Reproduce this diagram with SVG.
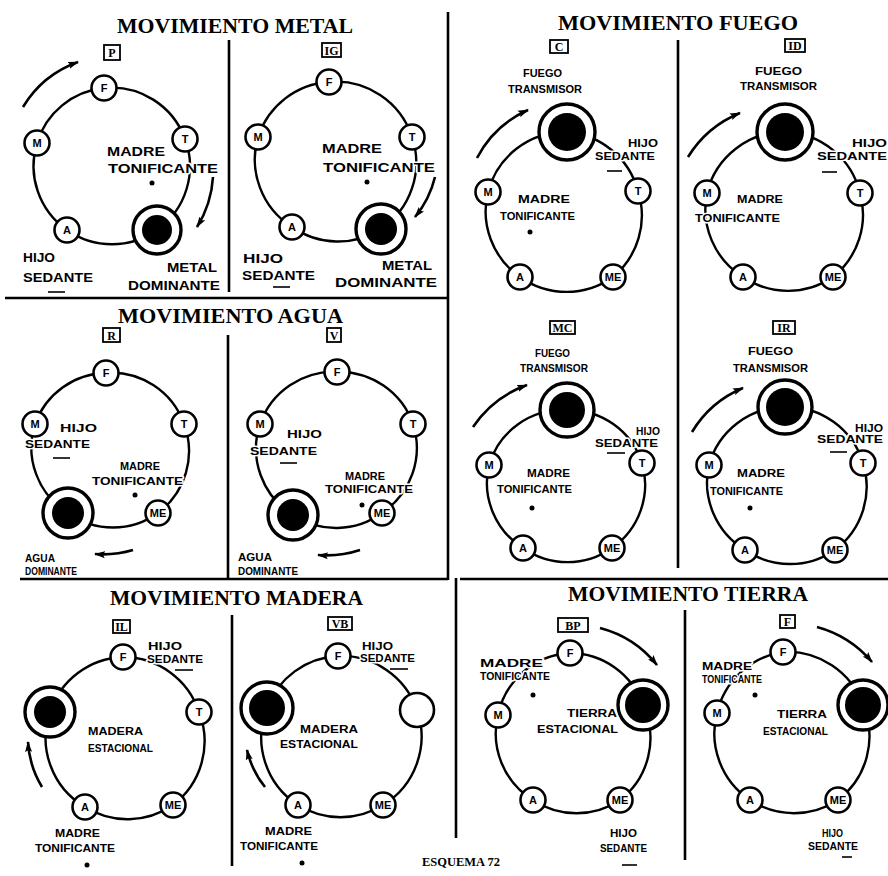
<svg xmlns="http://www.w3.org/2000/svg" width="888" height="876" viewBox="0 0 888 876">
<style>
.ring{fill:none;stroke:#000;stroke-width:2.4}
.arr{fill:none;stroke:#000;stroke-width:2.6;marker-end:url(#ah)}
.div{stroke:#000;stroke-width:2.6;fill:none}
.node{fill:#fff;stroke:#000;stroke-width:2.6}
.big{fill:#fff;stroke:#000;stroke-width:3.4}
.core{fill:#000}
.nl{font-family:"Liberation Sans",Arial,sans-serif;font-weight:bold;font-size:11px;text-anchor:middle}
.lb{font-family:"Liberation Sans",Arial,sans-serif;font-weight:bold;font-size:11px;stroke:#fff;stroke-width:3;paint-order:stroke;stroke-linejoin:round}
.lg{font-size:13px}
.hd{font-family:"Liberation Serif","Times New Roman",serif;font-weight:bold;font-size:20px}
.box{fill:#fff;stroke:#000;stroke-width:1.8}
.bt{font-family:"Liberation Serif","Times New Roman",serif;font-weight:bold;font-size:12px;text-anchor:middle}
.ul{stroke:#000;stroke-width:1.6}
</style>
<defs>
<marker id="ah" markerUnits="userSpaceOnUse" markerWidth="11" markerHeight="8" refX="10" refY="4" orient="auto">
<path d="M0,0.5 L11,4 L0,7.5 L2,4 Z" fill="#000"/>
</marker>
</defs>
<rect width="888" height="876" fill="#fff"/>

<g id="frame">
<line class="div" x1="5" y1="298" x2="448" y2="298"/>
<line class="div" x1="20" y1="579" x2="448" y2="579"/>
<line class="div" x1="460" y1="579" x2="888" y2="579"/>
<line class="div" x1="448" y1="12" x2="448" y2="580"/>
<line class="div" x1="456" y1="578" x2="456" y2="838"/>
<line class="div" x1="229" y1="40" x2="229" y2="292"/>
<line class="div" x1="228" y1="335" x2="228" y2="578"/>
<line class="div" x1="232" y1="615" x2="232" y2="866"/>
<line class="div" x1="678" y1="40" x2="678" y2="568"/>
<line class="div" x1="685" y1="610" x2="685" y2="860"/>
</g>

<g id="headings">
<text class="hd" x="117" y="33" textLength="236" lengthAdjust="spacingAndGlyphs">MOVIMIENTO METAL</text>
<text class="hd" x="118" y="323" textLength="225" lengthAdjust="spacingAndGlyphs">MOVIMIENTO AGUA</text>
<text class="hd" x="110" y="605" textLength="253" lengthAdjust="spacingAndGlyphs">MOVIMIENTO MADERA</text>
<text class="hd" x="558" y="30" textLength="240" lengthAdjust="spacingAndGlyphs">MOVIMIENTO FUEGO</text>
<text class="hd" x="568" y="601" textLength="240" lengthAdjust="spacingAndGlyphs">MOVIMIENTO TIERRA</text>
<text class="hd" x="422" y="866" style="font-size:13px" textLength="78" lengthAdjust="spacingAndGlyphs">ESQUEMA 72</text>
</g>

<g id="connectors">
<path class="ring" d="M104,88 A78,78 0 0 1 185,139 A78,78 0 0 1 157,230 A78,78 0 0 1 67,230 A78,78 0 0 1 37,143 A78,78 0 0 1 104,88 Z"/>
<path class="ring" d="M329,82 A80,80 0 0 1 412,137 A80,80 0 0 1 381,229 A80,80 0 0 1 292,227 A80,80 0 0 1 258,137 A80,80 0 0 1 329,82 Z"/>
<path class="ring" d="M106,373 A77,77 0 0 1 184,424 A77,77 0 0 1 158,513 A77,77 0 0 1 68,513 A77,77 0 0 1 35,424 A77,77 0 0 1 106,373 Z"/>
<path class="ring" d="M337,372 A78,78 0 0 1 413,424 A78,78 0 0 1 382,513 A78,78 0 0 1 293,515 A78,78 0 0 1 260,424 A78,78 0 0 1 337,372 Z"/>
<path class="ring" d="M123,657 A80,80 0 0 1 199,712 A80,80 0 0 1 173,805 A80,80 0 0 1 85,807 A80,80 0 0 1 50,712 A80,80 0 0 1 123,657 Z"/>
<path class="ring" d="M338,656 A80,80 0 0 1 417,710 A80,80 0 0 1 383,805 A80,80 0 0 1 298,805 A80,80 0 0 1 267,708 A80,80 0 0 1 338,656 Z"/>
<path class="ring" d="M567,132 A80,80 0 0 1 638,191 A80,80 0 0 1 613,277 A80,80 0 0 1 520,277 A80,80 0 0 1 488,192 A80,80 0 0 1 567,132 Z"/>
<path class="ring" d="M785,132 A80,80 0 0 1 860,193 A80,80 0 0 1 833,277 A80,80 0 0 1 743,277 A80,80 0 0 1 707,193 A80,80 0 0 1 785,132 Z"/>
<path class="ring" d="M567,410 A77,77 0 0 1 642,463 A77,77 0 0 1 612,548 A77,77 0 0 1 523,548 A77,77 0 0 1 489,465 A77,77 0 0 1 567,410 Z"/>
<path class="ring" d="M785,407 A79,79 0 0 1 863,463 A79,79 0 0 1 835,550 A79,79 0 0 1 745,550 A79,79 0 0 1 709,465 A79,79 0 0 1 785,407 Z"/>
<path class="ring" d="M570,653 A78,78 0 0 1 643,705 A78,78 0 0 1 620,800 A78,78 0 0 1 533,800 A78,78 0 0 1 498,715 A78,78 0 0 1 570,653 Z"/>
<path class="ring" d="M783,652 A80,80 0 0 1 863,705 A80,80 0 0 1 838,800 A80,80 0 0 1 750,800 A80,80 0 0 1 717,713 A80,80 0 0 1 783,652 Z"/>

<path class="arr" d="M23,107 A106,106 0 0 1 78,62"/>
<path class="arr" d="M213,177 A106,106 0 0 1 197,227"/>
<path class="arr" d="M435,177 A100,100 0 0 1 415,217"/>
<path class="arr" d="M133,550 A104,104 0 0 1 95,554"/>
<path class="arr" d="M360,550 A105,105 0 0 1 318,555"/>
<path class="arr" d="M42,787 A97,97 0 0 1 28,742"/>
<path class="arr" d="M265,787 A92,92 0 0 1 247,750"/>
<path class="arr" d="M477,158 A106,106 0 0 1 528,110"/>
<path class="arr" d="M688,157 A110,110 0 0 1 740,113"/>
<path class="arr" d="M473,427 A109,109 0 0 1 527,385"/>
<path class="arr" d="M692,432 A108,108 0 0 1 743,388"/>
<path class="arr" d="M600,628 A108,108 0 0 1 657,665"/>
<path class="arr" d="M817,627 A110,110 0 0 1 872,662"/>
</g>

<!-- PANEL P -->
<g id="panel-P">
<rect class="box" x="104" y="45" width="16" height="15"/><text class="bt" x="112" y="57">P</text>
<g id="P-F"><circle class="node" cx="104" cy="88" r="12.5"/><text class="nl" x="104" y="92">F</text></g>
<g id="P-T"><circle class="node" cx="185" cy="139" r="12.5"/><text class="nl" x="185" y="143">T</text></g>
<g id="P-ME"><circle class="big" cx="157" cy="230" r="24"/><circle class="core" cx="157" cy="230" r="15"/></g>
<g id="P-A"><circle class="node" cx="67" cy="230" r="12.5"/><text class="nl" x="67" y="234">A</text></g>
<g id="P-M"><circle class="node" cx="37" cy="143" r="12.5"/><text class="nl" x="37" y="147">M</text></g>
<text class="lb lg" x="107" y="156" textLength="58" lengthAdjust="spacingAndGlyphs">MADRE</text>
<text class="lb lg" x="108" y="173" textLength="110" lengthAdjust="spacingAndGlyphs">TONIFICANTE</text>
<circle class="core" cx="152" cy="183" r="2.5"/>
<text class="lb lg" x="23" y="262" textLength="32" lengthAdjust="spacingAndGlyphs">HIJO</text>
<text class="lb lg" x="23" y="282" textLength="70" lengthAdjust="spacingAndGlyphs">SEDANTE</text>
<line class="ul" x1="48" y1="292" x2="65" y2="292"/>
<text class="lb lg" x="167" y="272" textLength="50" lengthAdjust="spacingAndGlyphs">METAL</text>
<text class="lb lg" x="128" y="290" textLength="92" lengthAdjust="spacingAndGlyphs">DOMINANTE</text>
</g>

<!-- PANEL IG -->
<g id="panel-IG">
<rect class="box" x="322" y="43" width="19" height="14"/><text class="bt" x="331.5" y="54.5">IG</text>
<g id="IG-F"><circle class="node" cx="329" cy="82" r="12.5"/><text class="nl" x="329" y="86">F</text></g>
<g id="IG-T"><circle class="node" cx="412" cy="137" r="12.5"/><text class="nl" x="412" y="141">T</text></g>
<g id="IG-ME"><circle class="big" cx="381" cy="229" r="25"/><circle class="core" cx="381" cy="229" r="16"/></g>
<g id="IG-A"><circle class="node" cx="292" cy="227" r="12.5"/><text class="nl" x="292" y="231">A</text></g>
<g id="IG-M"><circle class="node" cx="258" cy="137" r="12.5"/><text class="nl" x="258" y="141">M</text></g>
<text class="lb lg" x="322" y="153" textLength="60" lengthAdjust="spacingAndGlyphs">MADRE</text>
<text class="lb lg" x="323" y="172" textLength="112" lengthAdjust="spacingAndGlyphs">TONIFICANTE</text>
<circle class="core" cx="367" cy="182" r="2.5"/>
<text class="lb lg" x="243" y="263" textLength="40" lengthAdjust="spacingAndGlyphs">HIJO</text>
<text class="lb lg" x="242" y="280" textLength="73" lengthAdjust="spacingAndGlyphs">SEDANTE</text>
<line class="ul" x1="273" y1="287" x2="290" y2="287"/>
<text class="lb lg" x="382" y="270" textLength="50" lengthAdjust="spacingAndGlyphs">METAL</text>
<text class="lb lg" x="335" y="287" textLength="102" lengthAdjust="spacingAndGlyphs">DOMINANTE</text>
</g>

<!-- PANEL R -->
<g id="panel-R">
<rect class="box" x="103" y="328" width="17" height="14"/><text class="bt" x="111.5" y="339.5">R</text>
<g id="R-F"><circle class="node" cx="106" cy="373" r="12.5"/><text class="nl" x="106" y="377">F</text></g>
<g id="R-T"><circle class="node" cx="184" cy="424" r="12.5"/><text class="nl" x="184" y="428">T</text></g>
<g id="R-ME"><circle class="node" cx="158" cy="513" r="12.5"/><text class="nl" x="158" y="517">ME</text></g>
<g id="R-A"><circle class="big" cx="68" cy="513" r="25"/><circle class="core" cx="68" cy="513" r="16"/></g>
<g id="R-M"><circle class="node" cx="35" cy="424" r="12.5"/><text class="nl" x="35" y="428">M</text></g>
<text class="lb" x="60" y="432" textLength="37" lengthAdjust="spacingAndGlyphs">HIJO</text>
<text class="lb" x="25" y="448" textLength="65" lengthAdjust="spacingAndGlyphs">SEDANTE</text>
<line class="ul" x1="53" y1="458" x2="70" y2="458"/>
<text class="lb" x="120" y="470" textLength="40" lengthAdjust="spacingAndGlyphs">MADRE</text>
<text class="lb" x="92" y="485" textLength="91" lengthAdjust="spacingAndGlyphs">TONIFICANTE</text>
<circle class="core" cx="135" cy="495" r="2.5"/>
<text class="lb" x="25" y="562" textLength="30" lengthAdjust="spacingAndGlyphs">AGUA</text>
<text class="lb" x="25" y="575" textLength="52" lengthAdjust="spacingAndGlyphs">DOMINANTE</text>
</g>

<!-- PANEL V -->
<g id="panel-V">
<rect class="box" x="327" y="328" width="14" height="14"/><text class="bt" x="334" y="339.5">V</text>
<g id="V-F"><circle class="node" cx="337" cy="372" r="12.5"/><text class="nl" x="337" y="376">F</text></g>
<g id="V-T"><circle class="node" cx="413" cy="424" r="12.5"/><text class="nl" x="413" y="428">T</text></g>
<g id="V-ME"><circle class="node" cx="382" cy="513" r="12.5"/><text class="nl" x="382" y="517">ME</text></g>
<g id="V-A"><circle class="big" cx="293" cy="515" r="25"/><circle class="core" cx="293" cy="515" r="16"/></g>
<g id="V-M"><circle class="node" cx="260" cy="424" r="12.5"/><text class="nl" x="260" y="428">M</text></g>
<text class="lb" x="287" y="438" textLength="35" lengthAdjust="spacingAndGlyphs">HIJO</text>
<text class="lb" x="250" y="455" textLength="67" lengthAdjust="spacingAndGlyphs">SEDANTE</text>
<line class="ul" x1="280" y1="463" x2="297" y2="463"/>
<text class="lb" x="345" y="480" textLength="40" lengthAdjust="spacingAndGlyphs">MADRE</text>
<text class="lb" x="325" y="493" textLength="88" lengthAdjust="spacingAndGlyphs">TONIFICANTE</text>
<circle class="core" cx="362" cy="505" r="2.5"/>
<text class="lb" x="238" y="561" textLength="34" lengthAdjust="spacingAndGlyphs">AGUA</text>
<text class="lb" x="238" y="575" textLength="60" lengthAdjust="spacingAndGlyphs">DOMINANTE</text>
</g>

<!-- PANEL IL -->
<g id="panel-IL">
<rect class="box" x="113" y="620" width="17" height="13"/><text class="bt" x="121.5" y="631">IL</text>
<g id="IL-F"><circle class="node" cx="123" cy="657" r="12.5"/><text class="nl" x="123" y="661">F</text></g>
<g id="IL-T"><circle class="node" cx="199" cy="712" r="12.5"/><text class="nl" x="199" y="716">T</text></g>
<g id="IL-ME"><circle class="node" cx="173" cy="805" r="12.5"/><text class="nl" x="173" y="809">ME</text></g>
<g id="IL-A"><circle class="node" cx="85" cy="807" r="12.5"/><text class="nl" x="85" y="811">A</text></g>
<g id="IL-M"><circle class="big" cx="50" cy="712" r="25"/><circle class="core" cx="50" cy="712" r="16"/></g>
<text class="lb" x="148" y="650" textLength="34" lengthAdjust="spacingAndGlyphs">HIJO</text>
<text class="lb" x="147" y="663" textLength="56" lengthAdjust="spacingAndGlyphs">SEDANTE</text>
<line class="ul" x1="175" y1="670" x2="193" y2="670"/>
<text class="lb" x="88" y="735" textLength="55" lengthAdjust="spacingAndGlyphs">MADERA</text>
<text class="lb" x="88" y="752" textLength="65" lengthAdjust="spacingAndGlyphs">ESTACIONAL</text>
<text class="lb" x="55" y="837" textLength="45" lengthAdjust="spacingAndGlyphs">MADRE</text>
<text class="lb" x="35" y="852" textLength="80" lengthAdjust="spacingAndGlyphs">TONIFICANTE</text>
<circle class="core" cx="87" cy="865" r="2.5"/>
</g>

<!-- PANEL VB -->
<g id="panel-VB">
<rect class="box" x="328" y="617" width="24" height="13"/><text class="bt" x="340" y="628">VB</text>
<g id="VB-F"><circle class="node" cx="338" cy="656" r="12.5"/><text class="nl" x="338" y="660">F</text></g>
<g id="VB-T"><circle class="node" cx="417" cy="710" r="17"/></g>
<g id="VB-ME"><circle class="node" cx="383" cy="805" r="12.5"/><text class="nl" x="383" y="809">ME</text></g>
<g id="VB-A"><circle class="node" cx="298" cy="805" r="12.5"/><text class="nl" x="298" y="809">A</text></g>
<g id="VB-M"><circle class="big" cx="267" cy="708" r="26"/><circle class="core" cx="267" cy="708" r="18"/></g>
<text class="lb" x="362" y="650" textLength="31" lengthAdjust="spacingAndGlyphs">HIJO</text>
<text class="lb" x="360" y="662" textLength="55" lengthAdjust="spacingAndGlyphs">SEDANTE</text>
<line class="ul" x1="390" y1="669" x2="408" y2="669"/>
<text class="lb" x="300" y="733" textLength="58" lengthAdjust="spacingAndGlyphs">MADERA</text>
<text class="lb" x="280" y="748" textLength="78" lengthAdjust="spacingAndGlyphs">ESTACIONAL</text>
<text class="lb" x="265" y="835" textLength="47" lengthAdjust="spacingAndGlyphs">MADRE</text>
<text class="lb" x="240" y="850" textLength="78" lengthAdjust="spacingAndGlyphs">TONIFICANTE</text>
<circle class="core" cx="302" cy="863" r="2.5"/>
</g>

<!-- PANEL C -->
<g id="panel-C">
<rect class="box" x="550" y="40" width="18" height="13"/><text class="bt" x="559" y="51">C</text>
<text class="lb" x="523" y="77" textLength="39" lengthAdjust="spacingAndGlyphs">FUEGO</text>
<text class="lb" x="508" y="93" textLength="74" lengthAdjust="spacingAndGlyphs">TRANSMISOR</text>
<g id="C-F"><circle class="big" cx="567" cy="132" r="28"/><circle class="core" cx="567" cy="132" r="19"/></g>
<g id="C-T"><circle class="node" cx="638" cy="191" r="12.5"/><text class="nl" x="638" y="195">T</text></g>
<g id="C-ME"><circle class="node" cx="613" cy="277" r="12.5"/><text class="nl" x="613" y="281">ME</text></g>
<g id="C-A"><circle class="node" cx="520" cy="277" r="12.5"/><text class="nl" x="520" y="281">A</text></g>
<g id="C-M"><circle class="node" cx="488" cy="192" r="12.5"/><text class="nl" x="488" y="196">M</text></g>
<text class="lb" x="628" y="147" textLength="30" lengthAdjust="spacingAndGlyphs">HIJO</text>
<text class="lb" x="595" y="160" textLength="60" lengthAdjust="spacingAndGlyphs">SEDANTE</text>
<line class="ul" x1="607" y1="171" x2="622" y2="171"/>
<text class="lb" x="518" y="203" textLength="52" lengthAdjust="spacingAndGlyphs">MADRE</text>
<text class="lb" x="500" y="220" textLength="75" lengthAdjust="spacingAndGlyphs">TONIFICANTE</text>
<circle class="core" cx="530" cy="232" r="2.5"/>
</g>

<!-- PANEL ID -->
<g id="panel-ID">
<rect class="box" x="785" y="39" width="20" height="13"/><text class="bt" x="795" y="50">ID</text>
<text class="lb" x="755" y="75" textLength="47" lengthAdjust="spacingAndGlyphs">FUEGO</text>
<text class="lb" x="740" y="90" textLength="77" lengthAdjust="spacingAndGlyphs">TRANSMISOR</text>
<g id="ID-F"><circle class="big" cx="785" cy="132" r="28"/><circle class="core" cx="785" cy="132" r="19"/></g>
<g id="ID-T"><circle class="node" cx="860" cy="193" r="12.5"/><text class="nl" x="860" y="197">T</text></g>
<g id="ID-ME"><circle class="node" cx="833" cy="277" r="12.5"/><text class="nl" x="833" y="281">ME</text></g>
<g id="ID-A"><circle class="node" cx="743" cy="277" r="12.5"/><text class="nl" x="743" y="281">A</text></g>
<g id="ID-M"><circle class="node" cx="707" cy="193" r="12.5"/><text class="nl" x="707" y="197">M</text></g>
<text class="lb" x="852" y="147" textLength="35" lengthAdjust="spacingAndGlyphs">HIJO</text>
<text class="lb" x="817" y="160" textLength="70" lengthAdjust="spacingAndGlyphs">SEDANTE</text>
<line class="ul" x1="822" y1="172" x2="837" y2="172"/>
<text class="lb" x="737" y="203" textLength="46" lengthAdjust="spacingAndGlyphs">MADRE</text>
<text class="lb" x="695" y="222" textLength="85" lengthAdjust="spacingAndGlyphs">TONIFICANTE</text>
</g>

<!-- PANEL MC -->
<g id="panel-MC">
<rect class="box" x="550" y="321" width="25" height="13"/><text class="bt" x="562.5" y="332">MC</text>
<text class="lb" x="535" y="357" textLength="35" lengthAdjust="spacingAndGlyphs">FUEGO</text>
<text class="lb" x="520" y="372" textLength="68" lengthAdjust="spacingAndGlyphs">TRANSMISOR</text>
<g id="MC-F"><circle class="big" cx="567" cy="410" r="27"/><circle class="core" cx="567" cy="410" r="18"/></g>
<g id="MC-T"><circle class="node" cx="642" cy="463" r="12.5"/><text class="nl" x="642" y="467">T</text></g>
<g id="MC-ME"><circle class="node" cx="612" cy="548" r="12.5"/><text class="nl" x="612" y="552">ME</text></g>
<g id="MC-A"><circle class="node" cx="523" cy="548" r="12.5"/><text class="nl" x="523" y="552">A</text></g>
<g id="MC-M"><circle class="node" cx="489" cy="465" r="12.5"/><text class="nl" x="489" y="469">M</text></g>
<text class="lb" x="636" y="435" textLength="24" lengthAdjust="spacingAndGlyphs">HIJO</text>
<text class="lb" x="595" y="447" textLength="63" lengthAdjust="spacingAndGlyphs">SEDANTE</text>
<line class="ul" x1="607" y1="453" x2="625" y2="453"/>
<text class="lb" x="527" y="477" textLength="43" lengthAdjust="spacingAndGlyphs">MADRE</text>
<text class="lb" x="497" y="493" textLength="75" lengthAdjust="spacingAndGlyphs">TONIFICANTE</text>
<circle class="core" cx="532" cy="508" r="2.5"/>
</g>

<!-- PANEL IR -->
<g id="panel-IR">
<rect class="box" x="773" y="321" width="22" height="13"/><text class="bt" x="784" y="332">IR</text>
<text class="lb" x="748" y="355" textLength="45" lengthAdjust="spacingAndGlyphs">FUEGO</text>
<text class="lb" x="733" y="372" textLength="75" lengthAdjust="spacingAndGlyphs">TRANSMISOR</text>
<g id="IR-F"><circle class="big" cx="785" cy="407" r="27"/><circle class="core" cx="785" cy="407" r="19"/></g>
<g id="IR-T"><circle class="node" cx="863" cy="463" r="12.5"/><text class="nl" x="863" y="467">T</text></g>
<g id="IR-ME"><circle class="node" cx="835" cy="550" r="12.5"/><text class="nl" x="835" y="554">ME</text></g>
<g id="IR-A"><circle class="node" cx="745" cy="550" r="12.5"/><text class="nl" x="745" y="554">A</text></g>
<g id="IR-M"><circle class="node" cx="709" cy="465" r="12.5"/><text class="nl" x="709" y="469">M</text></g>
<text class="lb" x="855" y="432" textLength="28" lengthAdjust="spacingAndGlyphs">HIJO</text>
<text class="lb" x="817" y="443" textLength="66" lengthAdjust="spacingAndGlyphs">SEDANTE</text>
<line class="ul" x1="830" y1="452" x2="847" y2="452"/>
<text class="lb" x="737" y="477" textLength="48" lengthAdjust="spacingAndGlyphs">MADRE</text>
<text class="lb" x="710" y="495" textLength="73" lengthAdjust="spacingAndGlyphs">TONIFICANTE</text>
<circle class="core" cx="750" cy="508" r="2.5"/>
</g>

<!-- PANEL BP -->
<g id="panel-BP">
<rect class="box" x="558" y="618" width="30" height="14"/><text class="bt" x="573" y="629.5">BP</text>
<g id="BP-F"><circle class="node" cx="570" cy="653" r="12.5"/><text class="nl" x="570" y="657">F</text></g>
<g id="BP-T"><circle class="big" cx="643" cy="705" r="25"/><circle class="core" cx="643" cy="705" r="18"/></g>
<g id="BP-ME"><circle class="node" cx="620" cy="800" r="12.5"/><text class="nl" x="620" y="804">ME</text></g>
<g id="BP-A"><circle class="node" cx="533" cy="800" r="12.5"/><text class="nl" x="533" y="804">A</text></g>
<g id="BP-M"><circle class="node" cx="498" cy="715" r="12.5"/><text class="nl" x="498" y="719">M</text></g>
<text class="lb" x="480" y="667" textLength="63" lengthAdjust="spacingAndGlyphs">MADRE</text>
<text class="lb" x="480" y="680" textLength="70" lengthAdjust="spacingAndGlyphs">TONIFICANTE</text>
<circle class="core" cx="533" cy="695" r="2.5"/>
<text class="lb" x="567" y="717" textLength="50" lengthAdjust="spacingAndGlyphs">TIERRA</text>
<text class="lb" x="537" y="733" textLength="81" lengthAdjust="spacingAndGlyphs">ESTACIONAL</text>
<text class="lb" x="610" y="837" textLength="27" lengthAdjust="spacingAndGlyphs">HIJO</text>
<text class="lb" x="600" y="852" textLength="47" lengthAdjust="spacingAndGlyphs">SEDANTE</text>
<line class="ul" x1="622" y1="865" x2="637" y2="865"/>
</g>

<!-- PANEL F -->
<g id="panel-F">
<rect class="box" x="780" y="615" width="15" height="13"/><text class="bt" x="787.5" y="626">F</text>
<g id="F-F"><circle class="node" cx="783" cy="652" r="12.5"/><text class="nl" x="783" y="656">F</text></g>
<g id="F-T"><circle class="big" cx="863" cy="705" r="25"/><circle class="core" cx="863" cy="705" r="18"/></g>
<g id="F-ME"><circle class="node" cx="838" cy="800" r="12.5"/><text class="nl" x="838" y="804">ME</text></g>
<g id="F-A"><circle class="node" cx="750" cy="800" r="12.5"/><text class="nl" x="750" y="804">A</text></g>
<g id="F-M"><circle class="node" cx="717" cy="713" r="12.5"/><text class="nl" x="717" y="717">M</text></g>
<text class="lb" x="702" y="670" textLength="50" lengthAdjust="spacingAndGlyphs">MADRE</text>
<text class="lb" x="702" y="683" textLength="60" lengthAdjust="spacingAndGlyphs">TONIFICANTE</text>
<circle class="core" cx="755" cy="695" r="2.5"/>
<text class="lb" x="777" y="718" textLength="50" lengthAdjust="spacingAndGlyphs">TIERRA</text>
<text class="lb" x="763" y="735" textLength="65" lengthAdjust="spacingAndGlyphs">ESTACIONAL</text>
<text class="lb" x="822" y="837" textLength="21" lengthAdjust="spacingAndGlyphs">HIJO</text>
<text class="lb" x="808" y="850" textLength="50" lengthAdjust="spacingAndGlyphs">SEDANTE</text>
<line class="ul" x1="842" y1="857" x2="852" y2="857"/>
</g>
</svg>
